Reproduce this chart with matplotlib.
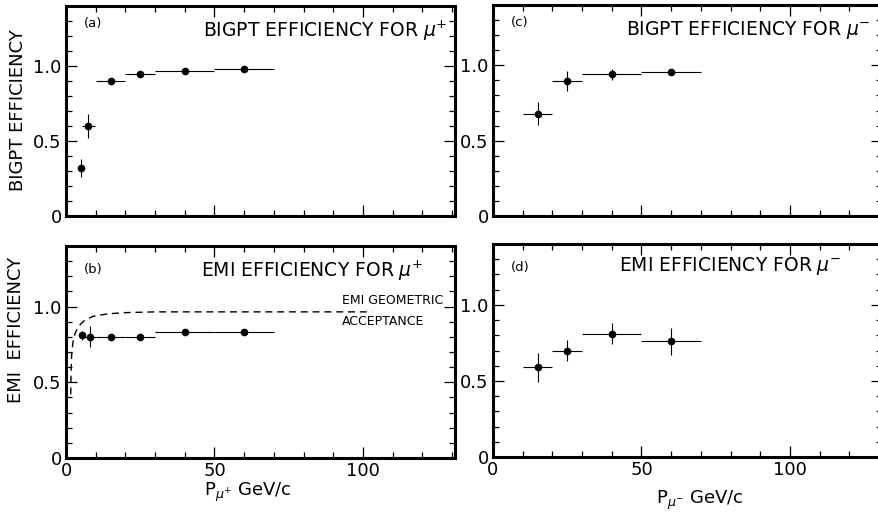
import numpy as np
import matplotlib
matplotlib.use("Agg")
import matplotlib.pyplot as plt
from matplotlib.ticker import MultipleLocator

plt.rcParams['font.family'] = ['DejaVu Sans']
plt.rcParams['mathtext.fontset'] = 'dejavusans'

# (a) BIGPT efficiency, mu+
a_p = [5, 7.5, 15, 25, 40, 60]
a_eff = [0.32, 0.60, 0.90, 0.95, 0.97, 0.98]
a_dp = [1, 2.2, 5, 5, 10, 10]
a_err = [0.06, 0.08, 0.0, 0.0, 0.0, 0.0]

# (b) EMI efficiency, mu+
b_p = [5.5, 8, 15, 25, 40, 60]
b_eff = [0.81, 0.80, 0.80, 0.80, 0.83, 0.835]
b_dp = [1, 2, 5, 5, 10, 10]
b_err = [0.03, 0.07, 0.0, 0.0, 0.0, 0.0]

# EMI geometric acceptance curve
acc_p = [1.6, 1.7, 1.9, 2.3, 3.0, 4.2, 6.0, 9.0, 14, 20, 30, 60, 103]
acc_eff = [0.42, 0.56, 0.68, 0.76, 0.82, 0.87, 0.905, 0.935, 0.952, 0.96, 0.965, 0.965, 0.965]

# (c) BIGPT efficiency, mu-
c_p = [15, 25, 40, 60]
c_eff = [0.68, 0.895, 0.94, 0.955]
c_dp = [5, 5, 10, 10]
c_err = [0.075, 0.065, 0.035, 0.01]

# (d) EMI efficiency, mu-
d_p = [15, 25, 40, 60]
d_eff = [0.59, 0.70, 0.81, 0.76]
d_dp = [5, 5, 10, 10]
d_err = [0.095, 0.07, 0.07, 0.09]

W, H = 879, 520
fig = plt.figure(figsize=(W / 100, H / 100), dpi=100)


def box(x0, y0, x1, y1):
    # pixel box (top-left origin) -> figure fraction
    return [x0 / W, 1 - y1 / H, (x1 - x0) / W, (y1 - y0) / H]


ax_a = fig.add_axes(box(66, 6, 455, 216))
ax_b = fig.add_axes(box(66, 246, 455, 458))
ax_c = fig.add_axes(box(493, 5, 882, 216))
ax_d = fig.add_axes(box(493, 244, 882, 457))

for ax in (ax_a, ax_b, ax_c, ax_d):
    ax.set_xlim(0, 131)
    ax.set_ylim(0, 1.4)
    for s in ax.spines.values():
        s.set_linewidth(2.2)
    ax.xaxis.set_major_locator(MultipleLocator(50))
    ax.xaxis.set_minor_locator(MultipleLocator(10))
    ax.set_yticks([0, 0.5, 1.0])
    ax.set_yticklabels(['0', '0.5', '1.0'])
    ax.yaxis.set_minor_locator(MultipleLocator(0.1))
    ax.tick_params(which='both', direction='in', top=True, right=True,
                   width=0.9, labelsize=13, pad=3)
    ax.tick_params(which='major', length=8)
    ax.tick_params(which='minor', length=4)

for ax in (ax_a, ax_c):
    ax.tick_params(labelbottom=False)
for ax in (ax_b, ax_d):
    ax.set_xticks([0, 50, 100])
    ax.set_xticklabels(['0', '50', '100'])


def points(ax, p, eff, dp, err):
    ax.errorbar(p, eff, xerr=dp, yerr=err, fmt='o', color='black',
                ms=4.5, elinewidth=0.8, capsize=0)


points(ax_a, a_p, a_eff, a_dp, a_err)
points(ax_b, b_p, b_eff, b_dp, b_err)
points(ax_c, c_p, c_eff, c_dp, c_err)
points(ax_d, d_p, d_eff, d_dp, d_err)

ax_b.plot(acc_p, acc_eff, color='black', lw=1.0, ls=(0, (5, 3.5)))
ax_b.text(93, 1.04, 'EMI GEOMETRIC', fontsize=9, va='center', ha='left')
ax_b.text(93, 0.90, 'ACCEPTANCE', fontsize=9, va='center', ha='left')

# panel tags and titles
ax_a.text(0.045, 0.90, '(a)', transform=ax_a.transAxes, fontsize=9.5)
ax_b.text(0.045, 0.875, '(b)', transform=ax_b.transAxes, fontsize=9.5)
ax_c.text(0.045, 0.90, '(c)', transform=ax_c.transAxes, fontsize=9.5)
ax_d.text(0.045, 0.875, '(d)', transform=ax_d.transAxes, fontsize=9.5)

ax_a.text(0.98, 0.88, r'BIGPT EFFICIENCY FOR $\mu^{+}$', transform=ax_a.transAxes,
          fontsize=13.5, ha='right', va='center')
ax_b.text(0.92, 0.88, r'EMI EFFICIENCY FOR $\mu^{+}$', transform=ax_b.transAxes,
          fontsize=13.5, ha='right', va='center')
ax_c.text(0.97, 0.88, r'BIGPT EFFICIENCY FOR $\mu^{-}$', transform=ax_c.transAxes,
          fontsize=13.5, ha='right', va='center')
ax_d.text(0.895, 0.895, r'EMI EFFICIENCY FOR $\mu^{-}$', transform=ax_d.transAxes,
          fontsize=13.5, ha='right', va='center')

fig.text(18 / W, 1 - 110 / H, 'BIGPT EFFICIENCY', rotation=90, fontsize=13,
         ha='center', va='center')
fig.text(16 / W, 1 - 330 / H, 'EMI  EFFICIENCY', rotation=90, fontsize=13,
         ha='center', va='center')
fig.text(248 / W, 1 - 496 / H, r'P$_{\mu^{+}}$ GeV/c', fontsize=13,
         ha='center', va='baseline')
fig.text(700 / W, 1 - 504 / H, r'P$_{\mu^{-}}$ GeV/c', fontsize=13,
         ha='center', va='baseline')

fig.savefig('out.png', dpi=100)
